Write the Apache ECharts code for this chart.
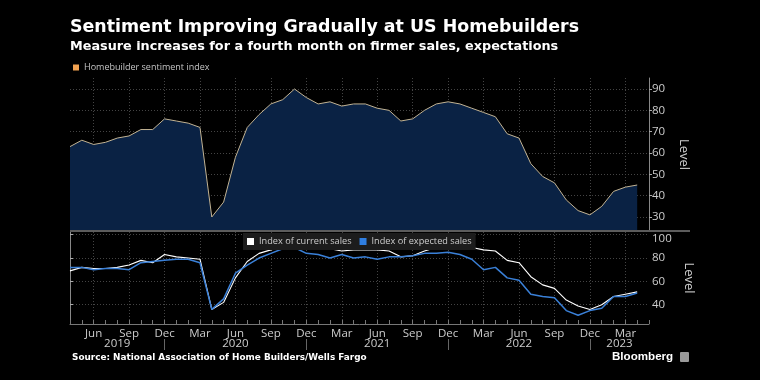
<!DOCTYPE html>
<html><head><meta charset="utf-8">
<script src="https://cdn.jsdelivr.net/npm/echarts@6/dist/echarts.min.js"></script>
<style>html,body{margin:0;padding:0;background:#000}#c{width:760px;height:380px}</style>
</head><body><div id="c"></div>
<script>
// ---- data ----
const months = [
  '2019-04','2019-05','2019-06','2019-07','2019-08','2019-09','2019-10','2019-11','2019-12',
  '2020-01','2020-02','2020-03','2020-04','2020-05','2020-06','2020-07','2020-08','2020-09','2020-10','2020-11','2020-12',
  '2021-01','2021-02','2021-03','2021-04','2021-05','2021-06','2021-07','2021-08','2021-09','2021-10','2021-11','2021-12',
  '2022-01','2022-02','2022-03','2022-04','2022-05','2022-06','2022-07','2022-08','2022-09','2022-10','2022-11','2022-12',
  '2023-01','2023-02','2023-03','2023-04','2023-05'
];
const sentiment = [63,66,64,65,67,68,71,71,76, 75,74,72,30,37,58,72,78,83,85,90,86, 83,84,82,83,83,81,80,75,76,80,83,84, 83,81,79,77,69,67,55,49,46,38,33,31, 35,42,44,45];
const currentSales = [69,72,71,71,72,74,78,76,83, 81,80,79,36,42,63,77,84,87,90,91,90, 89,88,86,87,87,87,86,81,82,86,89,89, 89,89,87,86,78,76,64,57,54,44,39,36, 40,47,49,51];
const expectedSales = [72,72,70,71,71,70,76,77,78, 79,79,76,36,45,67,74,80,84,88,89,84, 83,80,83,80,81,79,81,81,82,84,84,85, 83,79,70,72,63,61,49,47,46,35,31,35, 37,47,47,50];
const monthLabels = {'03':'Mar','06':'Jun','09':'Sep','12':'Dec'};
const topTicks = [30,40,50,60,70,80,90];
const bottomTicks = [40,60,80,100];
const titleText = 'Sentiment Improving Gradually at US Homebuilders';
const subtitleText = 'Measure increases for a fourth month on firmer sales, expectations';
const sourceText = 'Source: National Association of Home Builders/Wells Fargo';
const seriesNames = ['Homebuilder sentiment index','Index of current sales','Index of expected sales'];

// ---- derived year label positions ----
const decIdx = months.map((m,i)=>m.endsWith('-12')?i:-1).filter(i=>i>=0);
const bounds = [0].concat(decIdx).concat([months.length-1]);
const yearCenters = [], yearLabels = [];
for (let k=0;k<bounds.length-1;k++){
  yearCenters.push((bounds[k]+bounds[k+1])/2);
  yearLabels.push(months[bounds[k+1]].slice(0,4));
}
const isLabelMonth = (i,v)=>!!monthLabels[String(v).slice(5)];

const FONT = 'Open Sans';
const TITLEFONT = 'DejaVu Sans';
const gridLine = {show:true, lineStyle:{color:'#444', type:[1,2], width:1}};
const bottomMax = Math.max.apply(null, bottomTicks);

const chart = echarts.init(document.getElementById('c'));
chart.setOption({
  backgroundColor:'#000',
  animation:false,
  title:[
    {text:titleText, left:70, top:19, textStyle:{color:'#fff', fontFamily:TITLEFONT, fontWeight:'bold', fontSize:17.4}, padding:0},
    {text:subtitleText, left:70, top:40, textStyle:{color:'#fff', fontFamily:TITLEFONT, fontWeight:'bold', fontSize:12.8}, padding:0},
    {text:sourceText, left:72, top:353, textStyle:{color:'#fff', fontFamily:TITLEFONT, fontWeight:'bold', fontSize:8.9}, padding:0},
    {text:'Bloomberg', left:612, top:351, textStyle:{color:'#fff', fontFamily:'Liberation Sans', fontWeight:'bold', fontSize:11.6}, padding:0}
  ],
  legend:[
    {data:[{name:seriesNames[0], itemStyle:{color:'#f2a251'}}], left:73, top:63, padding:0, icon:'rect', itemWidth:6, itemHeight:6,
     textStyle:{color:'#c4c4c4', fontFamily:FONT, fontSize:9}},
    {data:[seriesNames[1], seriesNames[2]], left:243, top:233, padding:[4,4,4,4], backgroundColor:'#1c1c1c', icon:'rect', itemWidth:7, itemHeight:7, itemGap:8,
     textStyle:{color:'#ccc', fontFamily:FONT, fontSize:9.2}}
  ],
  grid:[
    {left:70, right:111, top:78, height:153},
    {left:70, right:111, top:232, height:92}
  ],
  xAxis:[
    {type:'category', gridIndex:0, data:months, boundaryGap:false,
     axisLine:{show:false}, axisTick:{show:false}, axisLabel:{show:false},
     splitLine:{show:true, interval:isLabelMonth, lineStyle:{color:'#444', type:[1,2]}}},
    {type:'category', gridIndex:1, data:months, boundaryGap:false,
     axisLine:{show:true, lineStyle:{color:'#777'}},
     axisTick:{show:true, interval:0, inside:true, length:4, lineStyle:{color:'#777'}},
     axisLabel:{show:true, interval:isLabelMonth, formatter:v=>monthLabels[v.slice(5)], color:'#ccc', fontFamily:FONT, fontSize:11.5, margin:4},
     splitLine:{show:true, interval:isLabelMonth, lineStyle:{color:'#444', type:[1,2]}}},
    {type:'value', gridIndex:1, min:0, max:months.length-1, position:'bottom', offset:15,
     axisLine:{show:false}, splitLine:{show:false},
     axisTick:{show:true, customValues:decIdx, length:11, lineStyle:{color:'#666'}},
     axisLabel:{show:true, customValues:yearCenters, formatter:v=>yearLabels[yearCenters.indexOf(v)], color:'#ccc', fontFamily:FONT, fontSize:11.5, margin:-1}}
  ],
  yAxis:[
    {type:'value', gridIndex:0, position:'right', min:23.44, max:95.16,
     axisLine:{show:true, lineStyle:{color:'#888'}},
     axisTick:{show:true, customValues:topTicks, length:3, lineStyle:{color:'#aaa'}},
     axisLabel:{customValues:topTicks, color:'#ccc', fontFamily:FONT, fontSize:11.5, margin:3},
     splitLine:gridLine,
     name:'Level', nameLocation:'middle', nameRotate:-90, nameGap:28, nameTextStyle:{color:'#ccc', fontFamily:FONT, fontSize:13}},
    {type:'value', gridIndex:1, position:'right', min:23.5, max:102.3,
     axisLine:{show:true, lineStyle:{color:'#888'}},
     axisTick:{show:true, customValues:bottomTicks, length:3, lineStyle:{color:'#aaa'}},
     axisLabel:{customValues:bottomTicks, color:'#ccc', fontFamily:FONT, fontSize:11.5, margin:3,
       formatter:v=> v===bottomMax ? '{t|'+v+'}' : String(v),
       rich:{t:{color:'#ccc', fontFamily:FONT, fontSize:11.5, padding:[9,0,0,0]}}},
     splitLine:gridLine,
     name:'Level', nameLocation:'middle', nameRotate:-90, nameGap:28, nameTextStyle:{color:'#ccc', fontFamily:FONT, fontSize:13}}
  ],
  series:[
    {name:seriesNames[0], type:'line', xAxisIndex:0, yAxisIndex:0, data:sentiment, symbol:'none',
     lineStyle:{color:'#c2b393', width:1}, itemStyle:{color:'#c2b393'}, areaStyle:{color:'#0a2244', opacity:1, origin:'start'}},
    {name:seriesNames[1], type:'line', xAxisIndex:1, yAxisIndex:1, data:currentSales, symbol:'none',
     lineStyle:{color:'#ffffff', width:1.1}, itemStyle:{color:'#ffffff'}},
    {name:seriesNames[2], type:'line', xAxisIndex:1, yAxisIndex:1, data:expectedSales, symbol:'none',
     lineStyle:{color:'#3a80d8', width:1.5}, itemStyle:{color:'#2f7ee0'}}
  ],
  graphic:[
    {type:'line', shape:{x1:70, y1:231, x2:690, y2:231}, style:{stroke:'#5c5c5c', lineWidth:2}, z:10},
    {type:'rect', shape:{x:680, y:352, width:9, height:10, r:1}, style:{fill:'#9a9a9a'}}
  ]
});
</script></body></html>
